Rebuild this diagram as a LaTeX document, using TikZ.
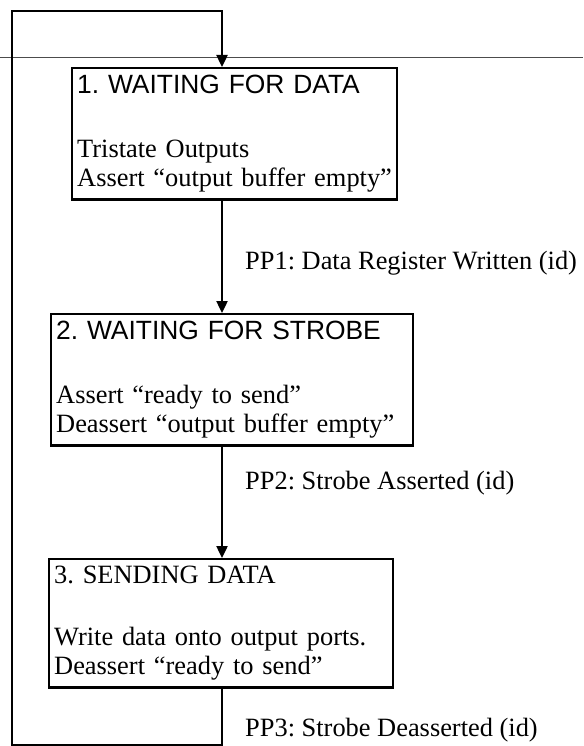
\documentclass[tikz,border=0pt]{standalone}
\usepackage{fontspec}
\setmainfont{Liberation Serif}
\setsansfont{Liberation Sans}
\usetikzlibrary{arrows.meta, positioning}

\begin{document}
\frenchspacing
\begin{tikzpicture}[x=1pt, y=1pt, line width=2.4pt,
		font=\fontsize{26.4}{29.5}\selectfont,
		statebox/.style={draw, rectangle, anchor=north west, align=left, inner xsep=5pt, inner ysep=7pt},
		trans/.style={-{Triangle[length=12pt, width=11pt]}},
		cond/.style={anchor=west, inner sep=0pt, xshift=22pt}]
		\useasboundingbox (0,0) rectangle (583,-746);
		\draw[line width=0.6pt, black!70] (0,-57) -- (583,-57);
		\coordinate (spine) at (222,0);
		\coordinate (bl) at (12,-745);
		\coordinate (tl) at (12,-11);
		
		\node[statebox, text width=315pt] (s1) at (71,-67) {{\sffamily 1. WAITING FOR DATA}\\[34pt] Tristate Outputs\\ Assert “output buffer empty”};
		\node[statebox, text width=352pt] (s2) at (50,-313) {{\sffamily 2. WAITING FOR STROBE}\\[34pt] Assert “ready to send”\\ Deassert “output buffer empty”};
		\node[statebox, text width=334pt] (s3) at (48,-558) {3. SENDING DATA\\[32pt] Write data onto output ports.\\ Deassert “ready to send”};
		
		\path[trans] (s1.south -| spine) edge node[cond, pos=0.56] {PP1: Data Register Written (id)} (s2.north -| spine)
		             (s2.south -| spine) edge node[cond, pos=0.33] {PP2: Strobe Asserted (id)} (s3.north -| spine);
		\draw[trans] (s3.south -| spine) -- node[cond, pos=0.73] {PP3: Strobe Deasserted (id)} (spine |- bl) -- (bl) -- (tl) -- (spine |- tl) -- (s1.north -| spine);
	\end{tikzpicture}
\end{document}
